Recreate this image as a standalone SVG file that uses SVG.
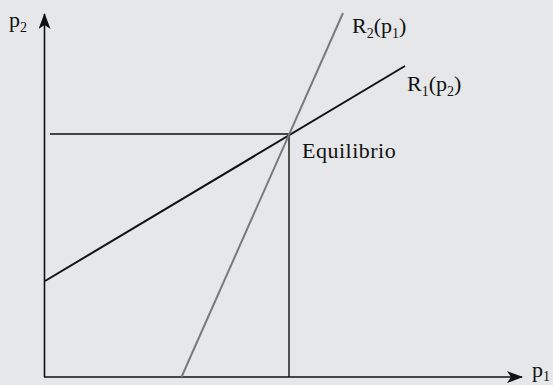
<svg xmlns="http://www.w3.org/2000/svg" width="553" height="385" viewBox="0 0 553 385">
<style>
text{font-family:"Liberation Serif","Times New Roman",serif;font-size:22px;fill:#111}
.sub{font-size:14px}
.axis{stroke:#111;stroke-width:1.6;fill:none}
.guide{stroke:#111;stroke-width:1.4;fill:none}
</style>
<defs>
<marker id="arr" viewBox="0 0 16 12" refX="15" refY="6" markerWidth="16" markerHeight="12" markerUnits="userSpaceOnUse" orient="auto">
<path d="M0,0 L16,6 L0,12 L4,6 Z" fill="#111"/>
</marker>
</defs>
<rect width="553" height="385" fill="#e6e7e9"/>
<g id="connectors">
<line id="y-axis" class="axis" x1="44.5" y1="377" x2="44.5" y2="14" marker-end="url(#arr)"/>
<line id="x-axis" class="axis" x1="44" y1="377" x2="522" y2="377" marker-end="url(#arr)"/>
<polyline id="guides" class="guide" points="50,134 289,134 289,377"/>
<line id="R1" x1="45" y1="281" x2="405" y2="66" stroke="#111" stroke-width="2"/>
<line id="R2" x1="181.5" y1="377" x2="343" y2="13" stroke="#7a7a7a" stroke-width="2"/>
</g>
<g id="label-p2"><text x="9" y="27">p<tspan class="sub" dy="5">2</tspan></text></g>
<g id="label-p1"><text x="532" y="377">p<tspan class="sub" dy="4">1</tspan></text></g>
<g id="label-R2"><text x="352" y="33">R<tspan class="sub" dy="5">2</tspan><tspan dy="-5">(p</tspan><tspan class="sub" dy="5">1</tspan><tspan dy="-5">)</tspan></text></g>
<g id="label-R1"><text x="407" y="91">R<tspan class="sub" dy="5">1</tspan><tspan dy="-5">(p</tspan><tspan class="sub" dy="5">2</tspan><tspan dy="-5">)</tspan></text></g>
<g id="label-eq"><text x="302" y="158" letter-spacing="0.5">Equilibrio</text></g>
</svg>
